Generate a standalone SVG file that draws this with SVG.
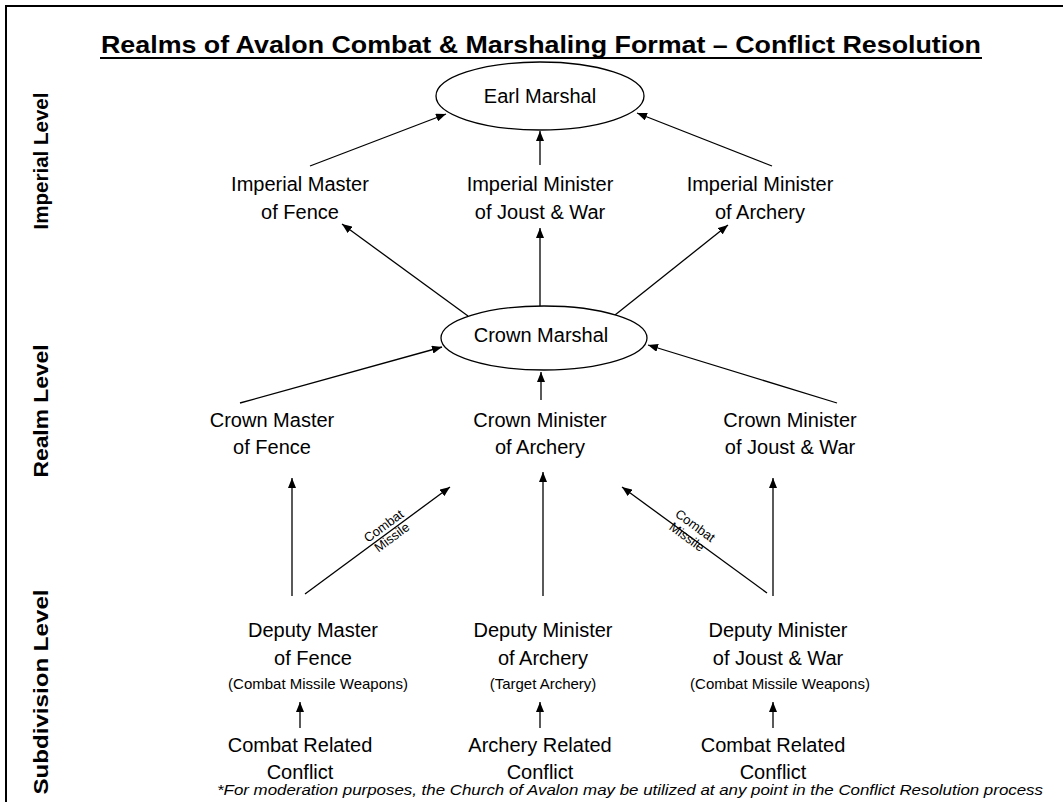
<svg xmlns="http://www.w3.org/2000/svg" width="1063" height="802" viewBox="0 0 1063 802">
<defs>
<marker id="ah" markerWidth="10" markerHeight="8" refX="10" refY="4" orient="auto" markerUnits="userSpaceOnUse">
<path d="M0,0 L10,4 L0,8 Z" fill="#000"/>
</marker>
<style>
text{font-family:"Liberation Sans",Arial,sans-serif;fill:#000}
.n{font-size:20px;text-anchor:middle}
.s{font-size:15px;text-anchor:middle}
.side{font-size:21px;font-weight:bold;text-anchor:middle}
.lbl{font-size:13px;text-anchor:middle}
.c line{stroke:#000;stroke-width:1.3;marker-end:url(#ah)}
ellipse{fill:#fff;stroke:#000;stroke-width:1.3}
</style>
</defs>
<rect width="1063" height="802" fill="#fff"/>
<path d="M1063,6 H6 V802" fill="none" stroke="#000" stroke-width="2"/>
<g id="title">
<text x="541" y="53" font-size="24" font-weight="bold" text-anchor="middle" textLength="880" lengthAdjust="spacingAndGlyphs">Realms of Avalon Combat &amp; Marshaling Format – Conflict Resolution</text>
<line x1="100" y1="58" x2="982" y2="58" stroke="#000" stroke-width="2"/>
</g>
<g id="levels">
<text class="side" transform="translate(48,161) rotate(-90)" textLength="137" lengthAdjust="spacingAndGlyphs">Imperial Level</text>
<text class="side" transform="translate(48,411) rotate(-90)" textLength="133" lengthAdjust="spacingAndGlyphs">Realm Level</text>
<text class="side" transform="translate(48,692) rotate(-90)" textLength="205" lengthAdjust="spacingAndGlyphs">Subdivision Level</text>
</g>
<g class="c" id="connectors">
<line x1="310" y1="166" x2="446" y2="114"/>
<line x1="540" y1="165" x2="540" y2="131"/>
<line x1="772" y1="166" x2="637" y2="113"/>
<line x1="468" y1="316" x2="342" y2="224"/>
<line x1="540" y1="306" x2="540" y2="228"/>
<line x1="615" y1="315" x2="728" y2="225"/>
<line x1="240" y1="403" x2="442" y2="347"/>
<line x1="541" y1="400" x2="541" y2="372"/>
<line x1="837" y1="403" x2="648" y2="345"/>
<line x1="292" y1="596" x2="292" y2="478"/>
<line x1="305" y1="594" x2="450" y2="487"/>
<line x1="543" y1="596" x2="543" y2="472"/>
<line x1="767" y1="593" x2="622" y2="487"/>
<line x1="773" y1="596" x2="773" y2="478"/>
<line x1="300" y1="728" x2="300" y2="702"/>
<line x1="540" y1="728" x2="540" y2="702"/>
<line x1="773" y1="728" x2="773" y2="702"/>
</g>
<g id="edge-labels">
<g transform="translate(388,532) rotate(-36.4)">
<text class="lbl" x="0" y="-3">Combat</text>
<text class="lbl" x="0" y="11">Missile</text>
</g>
<g transform="translate(692,530) rotate(36.2)">
<text class="lbl" x="0" y="-1">Combat</text>
<text class="lbl" x="0" y="13">Missile</text>
</g>
</g>
<g id="earl-marshal">
<ellipse cx="540" cy="96" rx="104" ry="34"/>
<text class="n" x="540" y="103">Earl Marshal</text>
</g>
<g id="imperial-fence">
<text class="n" x="300" y="191">Imperial Master</text>
<text class="n" x="300" y="219">of Fence</text>
</g>
<g id="imperial-joust">
<text class="n" x="540" y="191">Imperial Minister</text>
<text class="n" x="540" y="219">of Joust &amp; War</text>
</g>
<g id="imperial-archery">
<text class="n" x="760" y="191">Imperial Minister</text>
<text class="n" x="760" y="219">of Archery</text>
</g>
<g id="crown-marshal">
<ellipse cx="544" cy="338" rx="103" ry="32"/>
<text class="n" x="541" y="342">Crown Marshal</text>
</g>
<g id="crown-fence">
<text class="n" x="272" y="427">Crown Master</text>
<text class="n" x="272" y="454">of Fence</text>
</g>
<g id="crown-archery">
<text class="n" x="540" y="427">Crown Minister</text>
<text class="n" x="540" y="454">of Archery</text>
</g>
<g id="crown-joust">
<text class="n" x="790" y="427">Crown Minister</text>
<text class="n" x="790" y="454">of Joust &amp; War</text>
</g>
<g id="deputy-fence">
<text class="n" x="313" y="637">Deputy Master</text>
<text class="n" x="313" y="665">of Fence</text>
<text class="s" x="318" y="689">(Combat Missile Weapons)</text>
</g>
<g id="deputy-archery">
<text class="n" x="543" y="637">Deputy Minister</text>
<text class="n" x="543" y="665">of Archery</text>
<text class="s" x="543" y="689">(Target Archery)</text>
</g>
<g id="deputy-joust">
<text class="n" x="778" y="637">Deputy Minister</text>
<text class="n" x="778" y="665">of Joust &amp; War</text>
<text class="s" x="780" y="689">(Combat Missile Weapons)</text>
</g>
<g id="combat-conflict-1">
<text class="n" x="300" y="752">Combat Related</text>
<text class="n" x="300" y="779">Conflict</text>
</g>
<g id="archery-conflict">
<text class="n" x="540" y="752">Archery Related</text>
<text class="n" x="540" y="779">Conflict</text>
</g>
<g id="combat-conflict-2">
<text class="n" x="773" y="752">Combat Related</text>
<text class="n" x="773" y="779">Conflict</text>
</g>
<g id="footnote">
<text x="630" y="795" font-size="15" font-style="italic" text-anchor="middle" textLength="826" lengthAdjust="spacingAndGlyphs">*For moderation purposes, the Church of Avalon may be utilized at any point in the Conflict Resolution process</text>
</g>
</svg>
